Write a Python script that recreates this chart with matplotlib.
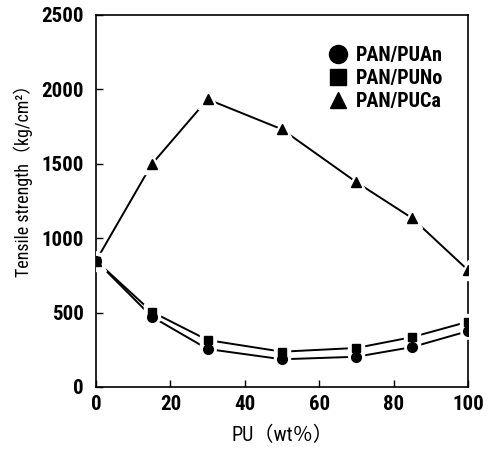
import matplotlib
matplotlib.use("Agg")
import matplotlib.pyplot as plt
from matplotlib import font_manager as fm
from matplotlib.lines import Line2D

pu = [0, 15, 30, 50, 70, 85, 100]
pan_puan = [848, 472, 255, 186, 203, 268, 375]
pan_puno = [848, 505, 315, 237, 262, 335, 438]
pan_puca = [848, 1497, 1933, 1731, 1376, 1134, 785]
series_labels = ["PAN/PUAn", "PAN/PUNo", "PAN/PUCa"]
xticks = [0, 20, 40, 60, 80, 100]
yticks = [0, 500, 1000, 1500, 2000, 2500]

names = {f.name for f in fm.fontManager.ttflist}
fam = "DejaVu Sans"
for cand in ["Liberation Sans Narrow", "DejaVu Sans Condensed", "Roboto Condensed",
             "Open Sans Condensed", "Liberation Sans"]:
    if cand in names:
        fam = cand
        break
plt.rcParams["font.family"] = [fam, "Noto Sans CJK JP", "DejaVu Sans"]
plt.rcParams["font.weight"] = "bold"

fig = plt.figure(figsize=(4.90, 4.51), dpi=100)
ax = fig.add_axes([0.196, 0.142, 0.759, 0.825])

styles = [(pan_puca, "^", 6.5, 14), (pan_puno, "s", 6, 11), (pan_puan, "o", 7, 11)]
for ys, mk, ms, gap in styles:
    ax.plot(pu, ys, color="black", lw=1.4, zorder=2)
    ax.plot(pu, ys, ls="none", marker=mk, ms=gap, mfc="white", mec="white", zorder=3)
for ys, mk, ms, gap in styles:
    ax.plot(pu, ys, ls="none", marker=mk, ms=ms, mfc="black", mec="black", zorder=4)

ax.set_xlim(0, 100)
ax.set_ylim(0, 2500)
ax.set_xticks(xticks)
ax.set_yticks(yticks)
ax.tick_params(direction="in", length=5, width=1, labelsize=15, pad=6)
ax.tick_params(axis="y", pad=9)
for s in ax.spines.values():
    s.set_linewidth(1.2)

ax.set_xlabel("PU（wt％）", fontsize=14.5, labelpad=8)
ax.set_ylabel("Tensile strength（kg/cm²）", fontsize=13)
ax.yaxis.set_label_coords(-0.17, 0.565)

handles = [Line2D([], [], ls="none", marker="o", ms=13, color="black"),
           Line2D([], [], ls="none", marker="s", ms=12, color="black"),
           Line2D([], [], ls="none", marker="^", ms=12, color="black")]
ax.legend(handles, series_labels, loc="upper left", bbox_to_anchor=(0.58, 0.955),
          frameon=False, fontsize=14.5, handletextpad=0.3, labelspacing=0.2,
          handlelength=1.2, borderpad=0.2)

fig.savefig("out.png", dpi=100)
